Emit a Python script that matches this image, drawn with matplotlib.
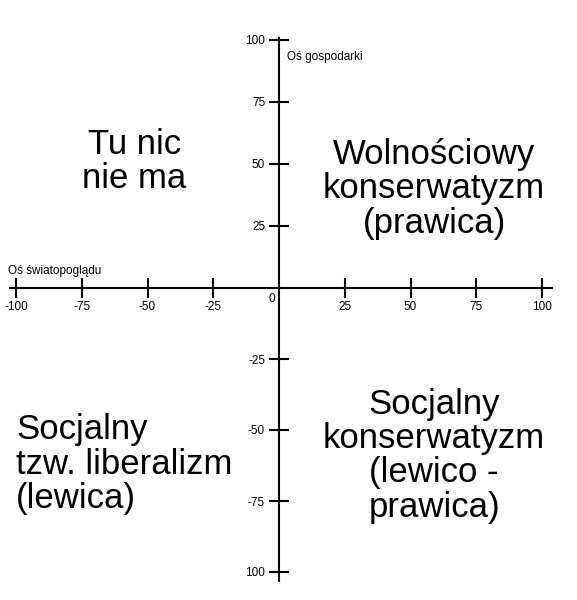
import matplotlib
matplotlib.use("Agg")
import matplotlib.pyplot as plt
import numpy as np

plt.rcParams['font.family'] = ['Liberation Sans', 'DejaVu Sans']

x_ticks = [-100, -75, -50, -25, 25, 50, 75, 100]
x_labels = ['-100', '-75', '-50', '-25', '25', '50', '75', '100']
y_ticks = [100, 75, 50, 25, -25, -50, -75, -100]
y_labels = ['100', '75', '50', '25', '-25', '-50', '-75', '100']

quadrants = [
    ("Tu nic\nnie ma", -55, 51, 'center'),
    ("Wolnościowy\nkonserwatyzm\n(prawica)", 59, 40, 'center'),
    ("Socjalny\nkonserwatyzm\n(lewico -\nprawica)", 59, -59, 'center'),
    ("Socjalny\ntzw. liberalizm\n(lewica)", -100, -62, 'left'),
]

X0 = 279
SX = 2.63

def fwd(y):
    y = np.asarray(y, dtype=float)
    return np.where(y >= 0, y * 2.48, y * 2.84)

def inv(v):
    v = np.asarray(v, dtype=float)
    return np.where(v >= 0, v / 2.48, v / 2.84)

fig = plt.figure(figsize=(5.77, 6.0), dpi=100)
ax = fig.add_axes([0, 0, 1, 1])
ax.set_yscale('function', functions=(fwd, inv))
ax.set_xlim((0 - X0) / SX, (577 - X0) / SX)
ax.set_ylim(-312 / 2.84, 288 / 2.48)

for s in ['top', 'right']:
    ax.spines[s].set_visible(False)
ax.spines['left'].set_position(('data', 0))
ax.spines['bottom'].set_position(('data', 0))
ax.spines['left'].set_bounds(-103, 101)
ax.spines['bottom'].set_bounds((10 - X0) / SX, (552 - X0) / SX)
for s in ['left', 'bottom']:
    ax.spines[s].set_linewidth(1.5)

ax.set_xticks(x_ticks)
ax.set_xticklabels(x_labels)
ax.set_yticks(y_ticks)
ax.set_yticklabels(y_labels)
ax.yaxis.set_minor_locator(matplotlib.ticker.NullLocator())
ax.tick_params(axis='both', direction='inout', length=14, width=1.5, labelsize=8.5)
ax.tick_params(axis='x', pad=2)
ax.tick_params(axis='y', pad=3)

for txt, x, y, ha in quadrants:
    ax.text(x, y, txt, fontsize=25, ha=ha, va='center', linespacing=1.05)

ax.text(3, 93, "Oś gospodarki", fontsize=8.5, ha='left', va='center')
ax.text((8 - X0) / SX, 7, "Oś światopoglądu", fontsize=8.5, ha='left', va='center')
ax.text(-1.5, -4, "0", fontsize=8.5, ha='right', va='center')

fig.savefig("out.png", dpi=100)
